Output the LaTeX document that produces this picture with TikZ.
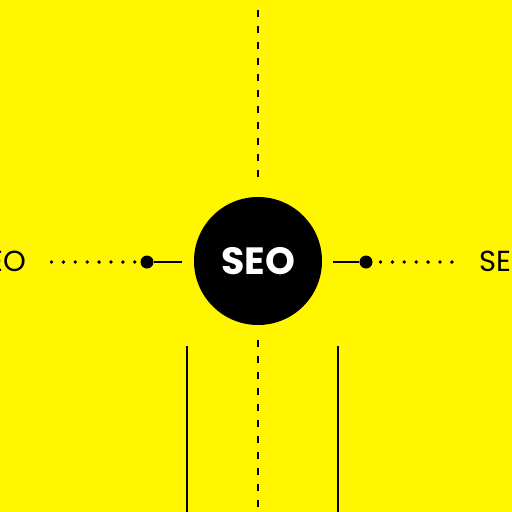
\documentclass[tikz,border=0pt]{standalone}
\usepackage{fontspec}
\setmainfont{Poppins}
\definecolor{bgyellow}{RGB}{255,246,0}
\tikzset{
  hub/.style={circle, fill=black, minimum size=128pt, inner sep=0pt, text=white, font=\fontsize{38}{40}\selectfont\bfseries},
  sidelabel/.style={inner sep=0pt, font=\fontsize{29}{32}\selectfont, text=black},
  bigdot/.style={circle, fill=black, minimum size=13pt, inner sep=0pt},
  dotline/.style={line width=3.8pt, line cap=round, dash pattern=on 0pt off 11.9pt},
  dashline/.style={line width=2.8pt, dash pattern=on 7pt off 9pt},
  thinline/.style={line width=1.6pt}
}
\begin{document}
\begin{tikzpicture}[x=1pt,y=-1pt]
\useasboundingbox (0,0) rectangle (512,512);
\clip (0,0) rectangle (512,512);
\fill[bgyellow] (0,0) rectangle (512,512);
\node[hub] (seo) at (258,261) {SEO};
\node[bigdot] (ldot) at (147,262) {};
\node[bigdot] (rdot) at (366,262) {};
\node[sidelabel, anchor=east] (llab) at (26,261) {SEO};
\node[sidelabel, anchor=west] (rlab) at (479,261) {SEO};
\coordinate (lstart) at (51.5,262);
\coordinate (lend) at (182,262);
\coordinate (rstart) at (333,262);
\coordinate (rdots) at (380.5,262);
\coordinate (rdotsend) at (452,262);
\coordinate (ldotsend) at (135,262);
\coordinate (ttop) at (258,10);
\coordinate (tbot) at (258,184);
\coordinate (btop) at (258,340);
\coordinate (bbot) at (258,512);
\coordinate (sl1) at (187,346);
\coordinate (sl2) at (187,512);
\coordinate (sr1) at (338,346);
\coordinate (sr2) at (338,512);
\draw[dotline] (lstart) -- (ldotsend);
\draw[thinline] (ldot) -- (lend);
\draw[thinline] (rstart) -- (rdot);
\draw[dotline] (rdots) -- (rdotsend);
\draw[dashline] (ttop) -- (tbot);
\draw[dashline] (btop) -- (bbot);
\draw[thinline] (sl1) -- (sl2);
\draw[thinline] (sr1) -- (sr2);
\end{tikzpicture}
\end{document}
